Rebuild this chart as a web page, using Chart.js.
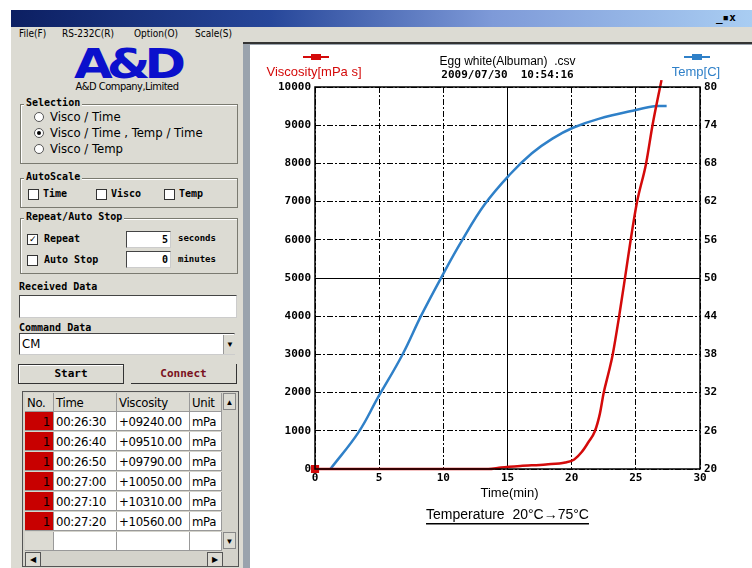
<!DOCTYPE html>
<html lang="en">
<head>
<meta charset="UTF-8">
<title>Egg white (Albuman) - Viscosity / Temp</title>
<script src="https://cdn.jsdelivr.net/npm/chart.js"></script>
<style>
  body { margin: 0; width: 752px; height: 568px; overflow: hidden; background: #fff; position: relative;
         font-family: 'Liberation Sans', Arial, sans-serif; }
  .abs { position: absolute; }
  .mono { font-family: 'DejaVu Sans Mono', monospace; font-weight: bold; font-size: 10px; }
  .narrow { font-family: 'Liberation Sans Narrow', 'DejaVu Sans Condensed', 'Liberation Sans', sans-serif; }
  .group { position: absolute; border: 1px solid #7a7a70; box-shadow: 1px 1px 0 #fff inset; }
  .gtitle { position: absolute; background: #dcdbd3; padding: 0 2px; }
  .chk { position: absolute; width: 9px; height: 9px; background: #fff; border: 1px solid #333; font-size: 9px; line-height: 9px; text-align: center; }
  .rad { position: absolute; width: 8px; height: 8px; border-radius: 50%; background: #fff; border: 1px solid #555; }
  .field { position: absolute; background: #fff; border: 1px solid #444; border-right-color: #ccc; border-bottom-color: #ccc; }
  .cell { position: absolute; height: 19px; line-height: 19px; background: #fff; border-right: 1px solid #999; border-bottom: 1px solid #999;
          font-size: 13px; padding-left: 2px; box-sizing: border-box; letter-spacing: -0.3px; }
</style>
</head>

<body>
  <!-- window frame -->
  <div class="abs" style="left:11px; top:10px; width:741px; height:17px; background: linear-gradient(to right, #0c1f62, #27479a 35%, #7e9ad8 65%, #a9cdf2);"></div>
  <div class="abs mono" style="left:716px; top:11px; font-size:11px; color:#000;">_▪x</div>
  <div class="abs" style="left:11px; top:27px; width:741px; height:541px; background:#dcdbd3;"></div>

  <!-- menu -->
  <div class="abs narrow" style="left:19px; top:28px; font-size:10px;">File(F)</div>
  <div class="abs narrow" style="left:62px; top:28px; font-size:10px;">RS-232C(R)</div>
  <div class="abs narrow" style="left:134px; top:28px; font-size:10px;">Option(O)</div>
  <div class="abs narrow" style="left:195px; top:28px; font-size:10px;">Scale(S)</div>

  <!-- logo -->
  <div class="abs" style="left:62px; top:35px; width:130px; text-align:center; color:#0b10cc; font: 900 50px 'DejaVu Sans', sans-serif; letter-spacing:-6px; transform: scaleY(0.8);">A&amp;D</div>
  <div class="abs narrow" style="left:62px; top:80px; width:130px; text-align:center; font-size:11px; letter-spacing:-0.5px;">A&amp;D Company,Limited</div>

  <!-- Selection -->
  <div class="group" style="left:20px; top:104px; width:216px; height:58px;"></div>
  <div class="gtitle mono" style="left:24px; top:97px;">Selection</div>
  <div class="rad" style="left:34px; top:112px;"></div>
  <div class="abs narrow" style="left:50px; top:109px; font-size:13px;">Visco / Time</div>
  <div class="rad" style="left:34px; top:128px;"><div style="width:4px;height:4px;margin:2px;background:#000;border-radius:50%;"></div></div>
  <div class="abs narrow" style="left:50px; top:125px; font-size:13px;">Visco / Time , Temp / Time</div>
  <div class="rad" style="left:34px; top:144px;"></div>
  <div class="abs narrow" style="left:50px; top:141px; font-size:13px;">Visco / Temp</div>

  <!-- AutoScale -->
  <div class="group" style="left:20px; top:178px; width:216px; height:28px;"></div>
  <div class="gtitle mono" style="left:24px; top:171px;">AutoScale</div>
  <div class="chk" style="left:28px; top:189px;"></div>
  <div class="abs mono" style="left:43px; top:188px;">Time</div>
  <div class="chk" style="left:96px; top:189px;"></div>
  <div class="abs mono" style="left:111px; top:188px;">Visco</div>
  <div class="chk" style="left:164px; top:189px;"></div>
  <div class="abs mono" style="left:179px; top:188px;">Temp</div>

  <!-- Repeat / Auto Stop -->
  <div class="group" style="left:20px; top:218px; width:216px; height:54px;"></div>
  <div class="gtitle mono" style="left:24px; top:211px;">Repeat/Auto Stop</div>
  <div class="chk" style="left:27px; top:234px;">✓</div>
  <div class="abs mono" style="left:44px; top:233px;">Repeat</div>
  <div class="field mono" style="left:126px; top:231px; width:41px; height:15px; text-align:right; line-height:15px; padding-right:2px;">5</div>
  <div class="abs mono" style="left:178px; top:233px; font-size:9px;">seconds</div>
  <div class="chk" style="left:27px; top:255px;"></div>
  <div class="abs mono" style="left:44px; top:254px;">Auto Stop</div>
  <div class="field mono" style="left:126px; top:251px; width:41px; height:15px; text-align:right; line-height:15px; padding-right:2px;">0</div>
  <div class="abs mono" style="left:178px; top:254px; font-size:9px;">minutes</div>

  <!-- data fields -->
  <div class="abs mono" style="left:19px; top:281px;">Received Data</div>
  <div class="field" style="left:19px; top:295px; width:216px; height:21px;"></div>
  <div class="abs mono" style="left:19px; top:322px;">Command Data</div>
  <div class="field narrow" style="left:19px; top:333px; width:216px; height:22px; font-size:13px; line-height:20px; padding-left:2px; box-sizing:border-box;">CM</div>
  <div class="abs" style="left:223px; top:335px; width:12px; height:19px; background:#dcdbd3; border-left:1px solid #999; font-size:8px; text-align:center; line-height:19px;">▼</div>

  <!-- buttons -->
  <div class="abs mono" style="left:18px; top:364px; width:104px; height:18px; border:1px solid #333; box-shadow: inset 1px 1px 0 #fff; text-align:center; line-height:18px; font-size:11px;">Start</div>
  <div class="abs mono" style="left:131px; top:364px; width:105px; height:19px; border-right:1px solid #333; border-bottom:1px solid #333; text-align:center; line-height:19px; font-size:11px; color:#7a1020;">Connect</div>

  <!-- table -->
  <div class="abs" style="left:22px; top:391px; width:215px; height:174px; background:#d4d3cb; border:1px solid #555;" id="tabela"></div>

  <!-- chart panel -->
  <div class="abs" style="left:243px; top:42px; width:509px; height:526px; background:#9aa3ad; border-top:2px solid #333;"></div>
  <div class="abs" style="left:250px; top:45px; width:502px; height:523px; background:#fff;">
    <canvas id="myChartCanvas" width="502" height="523"></canvas>
  </div>
</body>

</html>

<script>
  // ---- chart data ----
  // viscosity [mPa s] vs time [min] - red, left axis
  const viscoTime = [0, 13.5, 14.5, 16, 18, 19.5, 20.2, 20.8, 21.3, 21.8, 22.2, 22.5, 22.9, 23.2, 23.7, 24.2, 24.6, 25.1, 25.8, 26.3, 27.0];
  const viscoValues = [0, 0, 40, 80, 120, 170, 250, 450, 700, 980, 1450, 2000, 2550, 3000, 4000, 5100, 6000, 7000, 8000, 9000, 10180];

  // temperature [C] vs time [min] - blue, right axis
  const tempTime = [1.2, 3.4, 4.9, 6.8, 8.3, 9.9, 11.4, 13.2, 15.2, 16.9, 18.5, 20.1, 22.1, 25.0, 26.6, 27.4];
  const tempValues = [20, 25.8, 31.2, 37.9, 44.2, 50.3, 55.7, 61.5, 66.3, 69.6, 71.9, 73.6, 75.0, 76.4, 77.0, 77.0];

  // tick labels
  const timeTicks = [0, 5, 10, 15, 20, 25, 30];
  const viscoTicks = [0, 1000, 2000, 3000, 4000, 5000, 6000, 7000, 8000, 9000, 10000];
  const tempTicks = [20, 26, 32, 38, 44, 50, 56, 62, 68, 74, 80];

  // last rows of the data table
  const tabelaTempo = ['00:26:30', '00:26:40', '00:26:50', '00:27:00', '00:27:10', '00:27:20'];
  const tabelaVisco = ['+09240.00', '+09510.00', '+09790.00', '+10050.00', '+10310.00', '+10560.00'];

  const VERMELHO = '#d40a0a';
  const AZUL = '#2f80c8';
  const fonteTick = { family: "'DejaVu Sans Mono', monospace", size: 11, weight: 'bold' };

  function montarTabela() {
    const t = document.getElementById('tabela');
    const cols = [[2, 29, 'No.'], [31, 63, 'Time'], [94, 73, 'Viscosity'], [167, 32, 'Unit']];
    let html = '';
    cols.forEach(c => {
      html += `<div class="cell narrow" style="left:${c[0]}px; top:1px; width:${c[1]}px; background:#dcdbd3;">${c[2]}</div>`;
    });
    html += `<div class="abs" style="left:200px; top:1px; width:13px; height:17px; background:#dcdbd3; font-size:8px; text-align:center; line-height:17px; border:1px solid #888; box-sizing:border-box;">▲</div>`;
    for (let i = 0; i < tabelaTempo.length; i++) {
      const y = 20 + i * 20;
      html += `<div class="cell narrow" style="left:2px; top:${y}px; width:29px; background:#c80000; text-align:right; padding-right:3px;">1</div>`;
      html += `<div class="cell narrow" style="left:31px; top:${y}px; width:63px;">${tabelaTempo[i]}</div>`;
      html += `<div class="cell narrow" style="left:94px; top:${y}px; width:73px;">${tabelaVisco[i]}</div>`;
      html += `<div class="cell narrow" style="left:167px; top:${y}px; width:32px;">mPa</div>`;
    }
    const y = 20 + tabelaTempo.length * 20;
    html += `<div class="cell" style="left:2px; top:${y}px; width:29px; background:#dcdbd3;"></div>`;
    html += `<div class="cell" style="left:31px; top:${y}px; width:63px;"></div>`;
    html += `<div class="cell" style="left:94px; top:${y}px; width:73px;"></div>`;
    html += `<div class="cell" style="left:167px; top:${y}px; width:32px;"></div>`;
    html += `<div class="abs" style="left:200px; top:${y}px; width:13px; height:17px; background:#dcdbd3; font-size:8px; text-align:center; line-height:17px; border:1px solid #888; box-sizing:border-box;">▼</div>`;
    html += `<div class="abs" style="left:2px; top:${y + 20}px; width:14px; height:13px; border:1px solid #555; background:#dcdbd3; font-size:8px; line-height:13px; text-align:center;">◀</div>`;
    html += `<div class="abs" style="left:184px; top:${y + 20}px; width:14px; height:13px; border:1px solid #555; background:#dcdbd3; font-size:8px; line-height:13px; text-align:center;">▶</div>`;
    t.innerHTML = html;
  }

  // dash-dot grid, the middle lines are solid
  function tracejado(c) {
    if (!c.tick) return [];
    const v = c.tick.value;
    if (v === 15 || v === 5000) return [];
    return [6, 2, 2, 2];
  }

  function desenharMarca(ctx, x, y, cor) {
    ctx.fillStyle = cor;
    ctx.fillRect(x - 13, y - 1, 26, 2);
    ctx.fillRect(x - 5, y - 3, 10, 6);
  }

  // box, titles and axis captions
  const textos = {
    id: 'textos',
    afterDraw(chart) {
      const ctx = chart.ctx;
      const a = chart.chartArea;
      const cx = (a.left + a.right) / 2;
      ctx.save();
      ctx.strokeStyle = '#000';
      ctx.lineWidth = 1.5;
      ctx.strokeRect(a.left, a.top, a.right - a.left, a.bottom - a.top);

      ctx.fillStyle = '#000';
      ctx.textAlign = 'center';
      ctx.textBaseline = 'middle';
      ctx.font = "12px 'Liberation Sans Narrow', 'Liberation Sans', sans-serif";
      ctx.fillText('Egg white(Albuman)  .csv', cx, 17);
      ctx.font = "bold 11px 'DejaVu Sans Mono', monospace";
      ctx.fillText('2009/07/30  10:54:16', cx, 30);

      // series captions with their line markers
      ctx.font = "13px 'Liberation Sans Narrow', 'Liberation Sans', sans-serif";
      ctx.fillStyle = VERMELHO;
      ctx.fillText('Viscosity[mPa s]', 64, 27);
      ctx.fillStyle = AZUL;
      ctx.fillText('Temp[C]', 446, 27);
      desenharMarca(ctx, 66, 12, VERMELHO);
      desenharMarca(ctx, 447, 12, AZUL);

      ctx.fillStyle = '#000';
      ctx.font = "13px 'Liberation Sans Narrow', 'Liberation Sans', sans-serif";
      ctx.fillText('Time(min)', cx + 2, 448);
      ctx.font = "14px 'Liberation Sans Narrow', 'Liberation Sans', sans-serif";
      const legenda = 'Temperature  20\u00B0C\u219275\u00B0C';
      ctx.fillText(legenda, cx, 470);
      const w = ctx.measureText(legenda).width;
      ctx.fillRect(cx - w / 2, 478, w, 1.5);
      ctx.restore();
    }
  };

  function plotarGrafico() {
    const dados = {
      datasets: [{
        label: 'Viscosity[mPa s]',
        data: viscoTime.map((t, i) => ({ x: t, y: viscoValues[i] })),
        borderColor: VERMELHO,
        backgroundColor: VERMELHO,
        borderWidth: 2.5,
        cubicInterpolationMode: 'monotone',
        pointStyle: 'rect',
        pointRadius: c => c.dataIndex === 0 ? 4 : 0,
        yAxisID: 'y',
        clip: false
      },
      {
        label: 'Temp[C]',
        data: tempTime.map((t, i) => ({ x: t, y: tempValues[i] })),
        borderColor: AZUL,
        backgroundColor: AZUL,
        borderWidth: 2.5,
        tension: 0.4,
        pointRadius: 0,
        yAxisID: 'y1',
        clip: false
      }]
    };

    const semVirgula = v => String(v);

    const config = {
      type: 'line',
      data: dados,
      plugins: [textos],
      options: {
        responsive: false,
        animation: false,
        layout: { padding: { top: 42, left: 0, right: 0, bottom: 0 } },
        plugins: { legend: { display: false }, title: { display: false }, tooltip: { enabled: false } },
        scales: {
          x: {
            type: 'linear', min: 0, max: 30,
            afterBuildTicks: s => { s.ticks = timeTicks.map(v => ({ value: v })); },
            afterFit: s => { s.height = 99; },
            ticks: { color: '#000', font: fonteTick, padding: 3, maxRotation: 0, callback: semVirgula },
            grid: { color: '#000', lineWidth: 1, drawTicks: false },
            border: { display: false, dash: tracejado }
          },
          y: {
            type: 'linear', position: 'left', min: 0, max: 10000,
            afterBuildTicks: s => { s.ticks = viscoTicks.map(v => ({ value: v })); },
            afterFit: s => { s.width = 65; },
            ticks: { color: '#000', font: fonteTick, padding: 4, callback: semVirgula },
            grid: { color: '#000', lineWidth: 1, drawTicks: false },
            border: { display: false, dash: tracejado }
          },
          y1: {
            type: 'linear', position: 'right', min: 20, max: 80,
            afterBuildTicks: s => { s.ticks = tempTicks.map(v => ({ value: v })); },
            afterFit: s => { s.width = 52; },
            ticks: { color: '#000', font: fonteTick, padding: 4, callback: semVirgula },
            grid: { display: false, drawTicks: false },
            border: { display: false }
          }
        }
      }
    };

    let myChart = new Chart(document.getElementById('myChartCanvas'), config);
  }

  montarTabela();
  plotarGrafico();
</script>
